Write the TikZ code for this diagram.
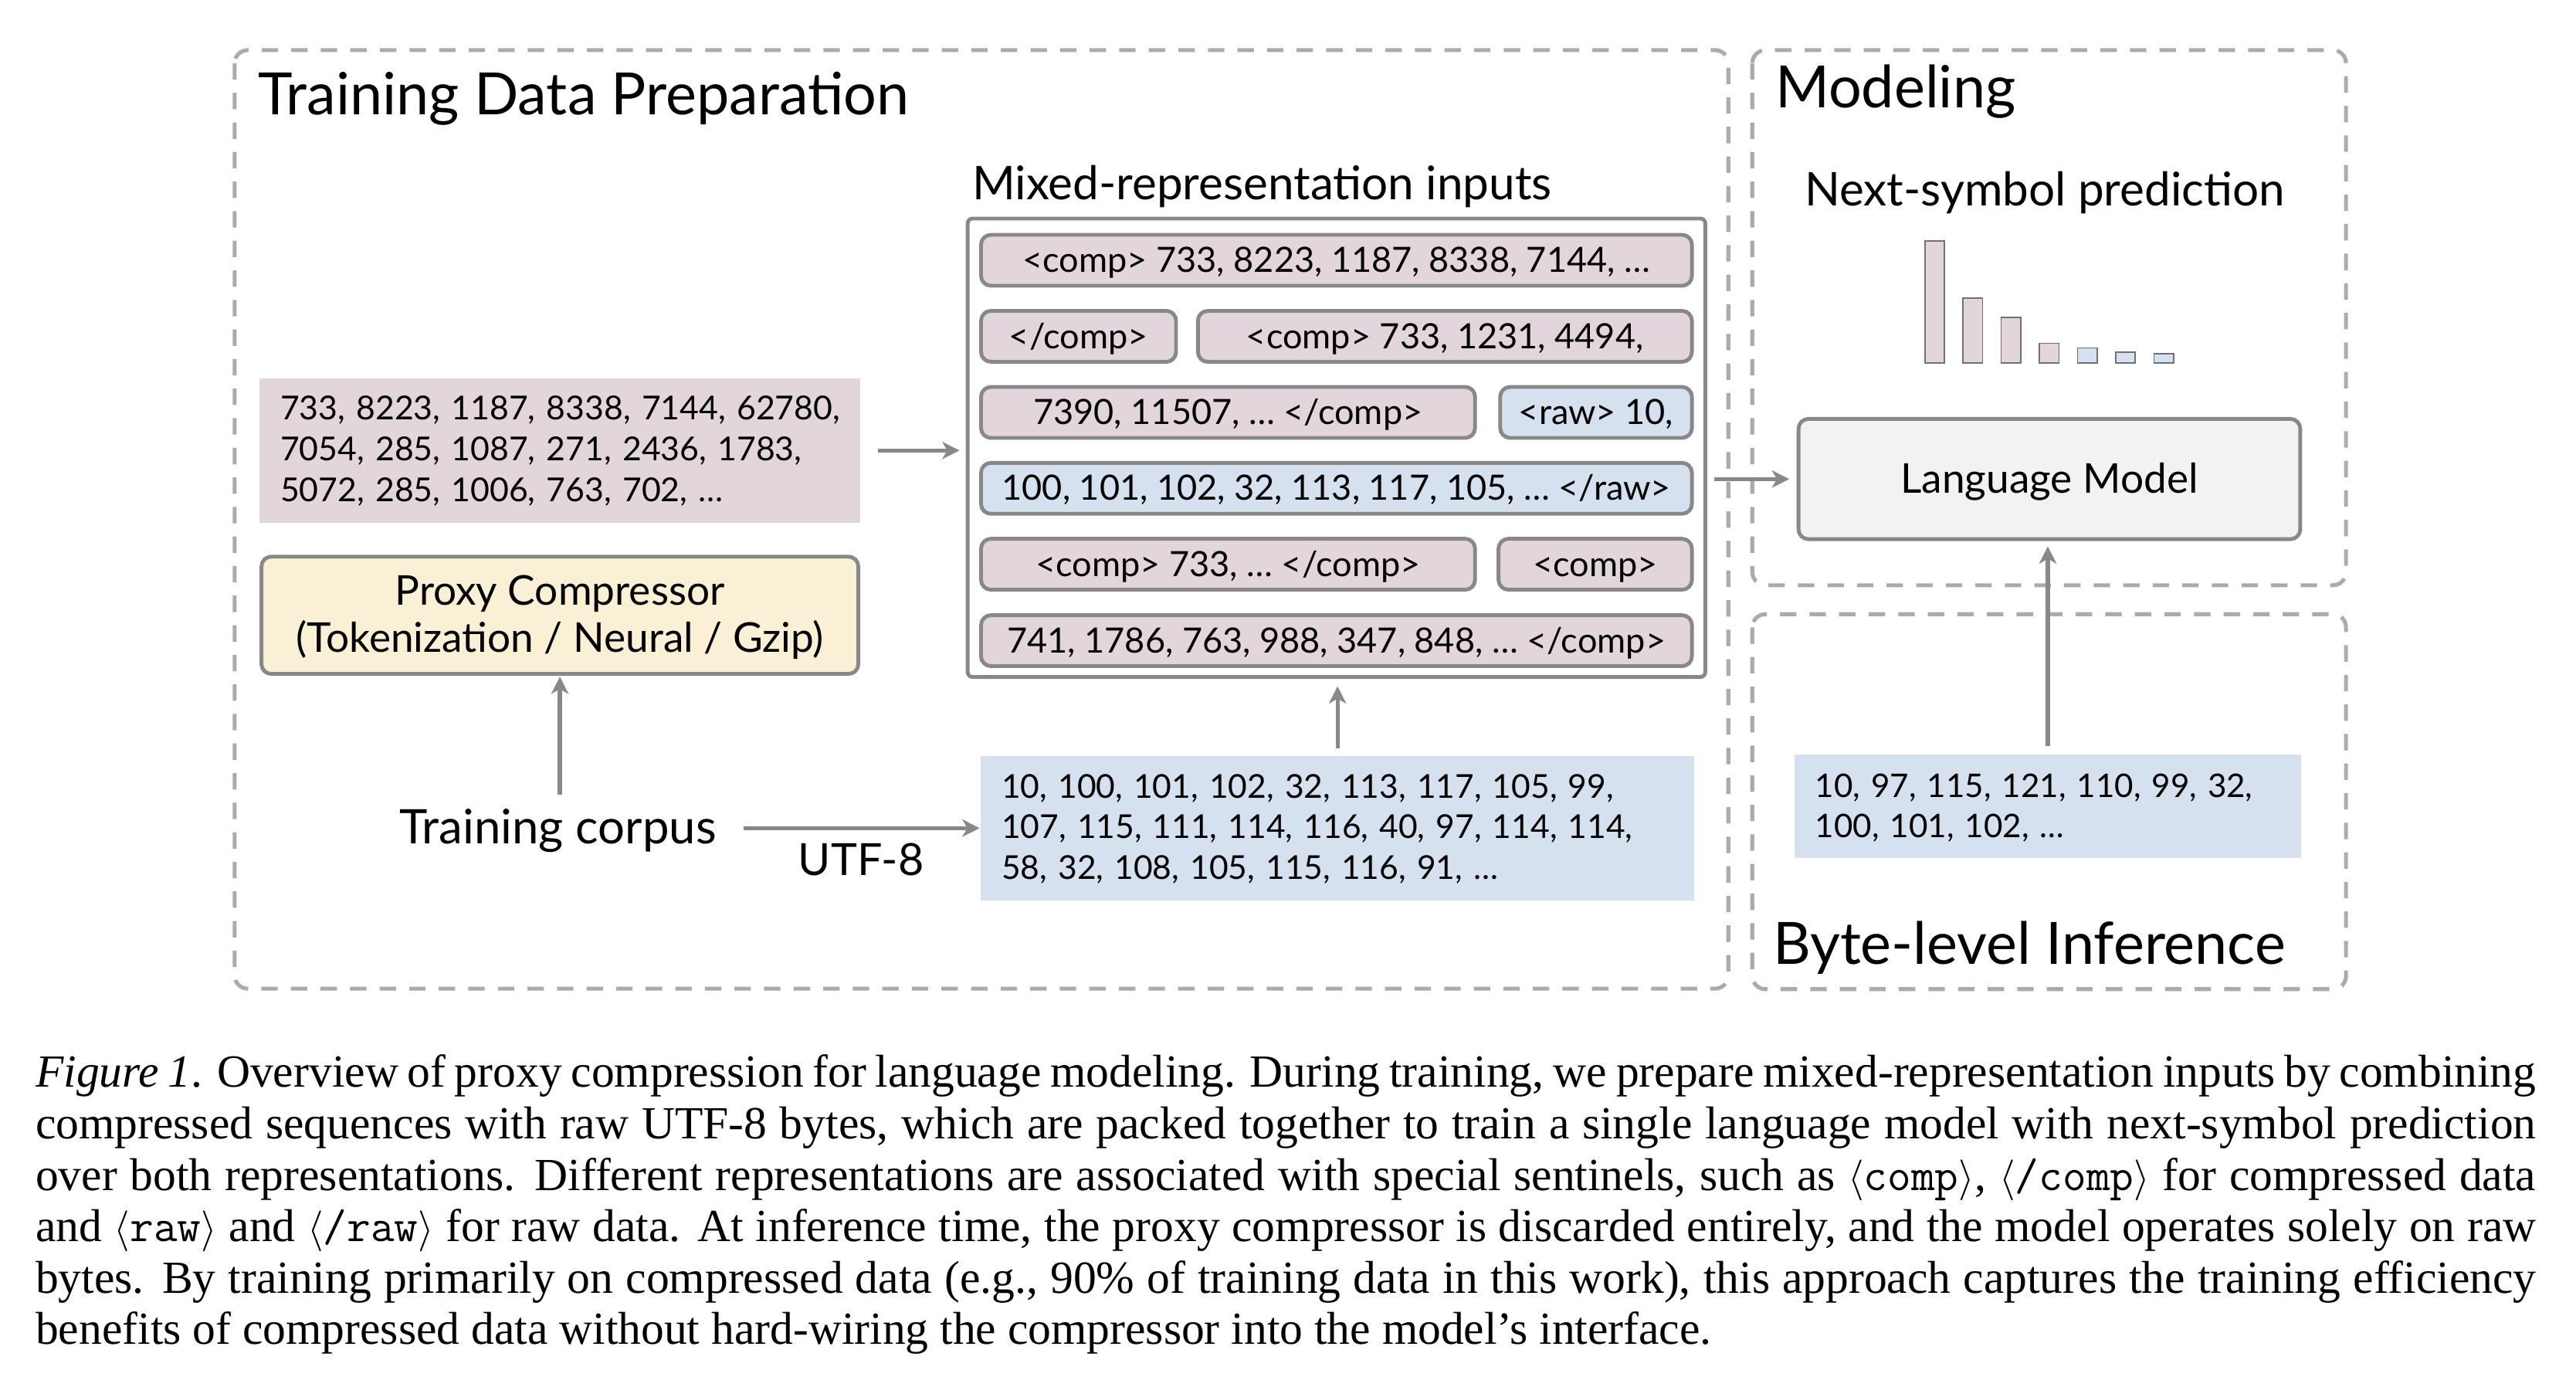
\documentclass[tikz,border=0pt]{standalone}
\usepackage{fontspec}
\setmainfont{Lato}
\newfontfamily\capfont{Liberation Serif}
\usetikzlibrary{arrows.meta}
\definecolor{pinkf}{HTML}{E3D5DC}
\definecolor{bluef}{HTML}{D5E1EE}
\definecolor{creamf}{HTML}{FAF0D5}
\definecolor{lmf}{HTML}{F2F2F2}
\definecolor{bord}{HTML}{888888}
\definecolor{dashc}{HTML}{ABABAB}
\definecolor{barb}{HTML}{707070}
\newcommand{\fTitle}{\fontsize{35.5}{40}\selectfont}
\newcommand{\fSub}{\fontsize{28.3}{32}\selectfont}
\newcommand{\fCorpus}{\fontsize{29}{33}\selectfont}
\newcommand{\fUtf}{\fontsize{27}{31}\selectfont}
\newcommand{\fBox}{\fontsize{25}{29}\selectfont}
\newcommand{\fNum}{\fontsize{20.1}{25}\selectfont}
\newcommand{\fNumB}{\fontsize{20}{24.65}\selectfont}
\newcommand{\fNumC}{\fontsize{19.8}{24.3}\selectfont}
\newcommand{\fRow}{\fontsize{21.2}{25}\selectfont}
\newcommand{\fCap}{\capfont\fontsize{28}{31.3}\selectfont}
\newcommand{\topst}[1]{\rule{0pt}{#1}}
\newcommand{\botst}[1]{\rule[-#1]{0pt}{#1}}
\newcommand{\sent}[1]{$\langle$\texttt{#1}$\rangle$}
\begin{document}
\begin{tikzpicture}[x=1pt,y=-1pt,
  sectionbox/.style={draw=dashc, line width=2.4pt, dash pattern=on 10pt off 8pt, rounded corners=8pt},
  label/.style={inner sep=0pt, anchor=base west},
  databox/.style={inner xsep=12.7pt, inner ysep=0pt, align=left, font=\fNum},
  rowbox/.style={draw=bord, line width=2.3pt, rounded corners=6pt, minimum height=31pt,
    inner sep=0pt, text height=14.6pt, text depth=0pt, font=\fRow},
  rowp/.style={rowbox, fill=pinkf},
  rowb/.style={rowbox, fill=bluef},
  arr/.style={draw=bord, line width=2.5pt, -{Stealth[length=10.5pt,width=10.5pt,inset=3pt]}},
  bar/.style={draw=barb, line width=0.8pt}
]
\useasboundingbox (0,0) rectangle (1568,848);
\fill[white] (0,0) rectangle (1568,848);

% section frames
\draw[sectionbox] (142.8,30.5) rectangle (1052,601.7);
\draw[sectionbox] (1066.6,30.5) rectangle (1428,356.2);
\draw[sectionbox] (1066.6,373.8) rectangle (1428,602);

\node[label, font=\fTitle] (ttrain) at (157,69.7) {Training Data Preparation};
\node[label, font=\fTitle] (tmodel) at (1080.4,65.4) {Modeling};
\node[label, font=\fTitle] (tinfer) at (1079,587) {Byte-level Inference};

% left column
\node[databox, fill=pinkf, minimum width=365.6pt, minimum height=87.7pt, text width=340.2pt] (comp) at (340.8,274.15)
  {\topst{16.5pt}\mbox{733, 8223, 1187, 8338, 7144, 62780,}\\\mbox{7054, 285, 1087, 271, 2436, 1783,}\\\mbox{5072, 285, 1006, 763, 702, …}\botst{4pt}};
\node[draw=bord, line width=2.3pt, fill=creamf, rounded corners=6pt, minimum width=363.3pt, minimum height=71.4pt,
  inner sep=0pt, align=center, font=\fBox] (proxy) at (340.8,374.45)
  {\topst{20.5pt}Proxy Compressor\\(Tokenization / Neural / Gzip)\botst{4pt}};
\node[label, font=\fCorpus] (corpus) at (242.9,513.6) {Training corpus};
\node[label, font=\fUtf] (utflbl) at (485.7,532.7) {UTF-8};

% utf-8 bytes
\node[databox, fill=bluef, minimum width=434.3pt, minimum height=87.8pt, text width=408.9pt, font=\fNumB] (utf) at (814.15,504)
  {\topst{16.7pt}\mbox{10, 100, 101, 102, 32, 113, 117, 105, 99,}\\\mbox{107, 115, 111, 114, 116, 40, 97, 114, 114,}\\\mbox{58, 32, 108, 105, 115, 116, 91, …}\botst{4pt}};

% mixed representation
\node[label, font=\fSub] (mixlbl) at (591.6,121.3) {Mixed-representation inputs};
\node[draw=bord, line width=2.3pt, fill=white, rounded corners=3pt, minimum width=449pt, minimum height=279pt, inner sep=0pt] (mixed) at (813.5,272.5) {};
\node[rowp, minimum width=432.7pt] (r1) at (813.5,158.4) {<comp> 733, 8223, 1187, 8338, 7144, …};
\node[rowp, minimum width=118.7pt] (r2a) at (656.5,204.7) {</comp>};
\node[rowp, minimum width=300.7pt] (r2b) at (879.5,204.7) {<comp> 733, 1231, 4494,};
\node[rowp, minimum width=300.7pt] (r3a) at (747.5,251) {7390, 11507, … </comp>};
\node[rowb, minimum width=116.7pt] (r3b) at (971.5,251) {<raw> 10,};
\node[rowb, minimum width=432.7pt] (r4) at (813.5,297.2) {100, 101, 102, 32, 113, 117, 105, … </raw>};
\node[rowp, minimum width=300.7pt] (r5a) at (747.5,343.4) {<comp> 733, … </comp>};
\node[rowp, minimum width=117.7pt] (r5b) at (971,343.4) {<comp>};
\node[rowp, minimum width=432.7pt] (r6) at (813.5,389.9) {741, 1786, 763, 988, 347, 848, … </comp>};

% modeling
\node[inner sep=0pt, anchor=base, font=\fSub] (nsp) at (1244.6,125.2) {Next-symbol prediction};
\foreach \i/\t/\c in {0/146.8/pinkf,1/181.4/pinkf,2/193.2/pinkf,3/208.9/pinkf,4/211.8/bluef,5/214.4/bluef,6/215.3/bluef}
  \draw[bar, fill=\c] ({1171.6+23.25*\i},220.9) rectangle ({1183.5+23.25*\i},\t);
\node[draw=bord, line width=2.3pt, fill=lmf, rounded corners=6pt, minimum width=305.4pt, minimum height=73.2pt,
  inner sep=0pt, text height=17.5pt, text depth=0pt, font=\fBox] (lm) at (1247.45,291.55) {Language Model};

% inference bytes
\node[databox, fill=bluef, minimum width=308.4pt, minimum height=62.6pt, text width=283pt, font=\fNumC] (bytes) at (1246.5,490.7)
  {\topst{17.9pt}\mbox{10, 97, 115, 121, 110, 99, 32,}\\\mbox{100, 101, 102, …}\botst{4pt}};

% connectors
\draw[arr, shorten <=10.7pt, shorten >=3.8pt] (comp.east) -- (comp.east -| mixed.west);
\draw[arr, shorten <=8.5pt, shorten >=0.5pt] (corpus.north -| proxy.south) -- (proxy.south);
\draw[arr, shorten <=16.3pt, shorten >=0.5pt] (corpus.east |- utf.west) -- (utf.west);
\draw[arr, shorten <=4.5pt, shorten >=4.5pt] (utf.north) -- (utf.north |- mixed.south);
\draw[arr, shorten <=4.2pt, shorten >=4.5pt] (lm.west -| mixed.east) -- (lm.west);
\draw[arr, shorten <=5pt, shorten >=3.2pt] (bytes.north) -- (bytes.north |- lm.south);

% caption
\node[inner sep=0pt, anchor=north west, align=left, font=\fCap] (cap) at (21.5,639.5)
{\topst{22pt}\makebox[1522pt][s]{\textit{Figure 1}. Overview of proxy compression for language modeling. During training, we prepare mixed-representation inputs by combining}\\
\makebox[1522pt][s]{compressed sequences with raw UTF-8 bytes, which are packed together to train a single language model with next-symbol prediction}\\
\makebox[1522pt][s]{over both representations. Different representations are associated with special sentinels, such as \sent{comp}, \sent{/comp} for compressed data}\\
\makebox[1522pt][s]{and \sent{raw} and \sent{/raw} for raw data. At inference time, the proxy compressor is discarded entirely, and the model operates solely on raw}\\
\makebox[1522pt][s]{bytes. By training primarily on compressed data (e.g., 90\% of training data in this work), this approach captures the training efficiency}\\
benefits of compressed data without hard-wiring the compressor into the model’s interface.};
\end{tikzpicture}
\end{document}
